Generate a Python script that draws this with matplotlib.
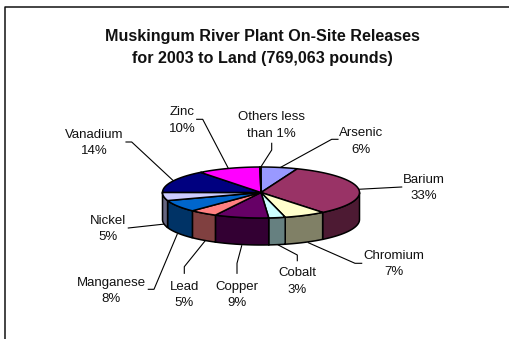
import numpy as np
import matplotlib
matplotlib.use('Agg')
import matplotlib.pyplot as plt
from matplotlib.patches import Polygon

#datos
names = ['Arsenic', 'Barium', 'Chromium', 'Cobalt', 'Copper', 'Lead',
         'Manganese', 'Nickel', 'Vanadium', 'Zinc', 'Others less\nthan 1%']
values = [6, 33.2, 6.8, 2.7, 8.9, 4.6, 7.6, 5.2, 14.4, 10.3, 0.2]
pct_labels = ['6%', '33%', '7%', '3%', '9%', '5%', '8%', '5%', '14%', '10%', '']
top_colors = ['#9999FF', '#993366', '#FFFFCC', '#CCFFFF', '#660066', '#FF8080',
              '#0066CC', '#CCCCFF', '#000080', '#FF00FF', '#808080']

plt.rcParams['font.family'] = ['Liberation Sans', 'DejaVu Sans']

W, H = 510, 339
fig = plt.figure(figsize=(W / 100, H / 100), dpi=100)
ax = fig.add_axes([0, 0, 1, 1])
ax.set_xlim(0, W)
ax.set_ylim(H, 0)
ax.axis('off')

#marco: solo arriba y a la izquierda
ax.plot([5.5, 5.5, W], [H, 7, 7], color='#111111', lw=1.1)

ax.text(262, 36, 'Muskingum River Plant On-Site Releases', ha='center', va='center',
        fontsize=11.6, fontweight='bold', color='#111111')
ax.text(262, 58, 'for 2003 to Land (769,063 pounds)', ha='center', va='center',
        fontsize=11.6, fontweight='bold', color='#111111')

#pastel 3D a mano
cx, cy, a, b, depth = 261, 192.5, 98.5, 25.5, 27


def ell(t):
    return cx + a * np.sin(t), cy - b * np.cos(t)


edges = np.radians(np.cumsum([0] + values) / sum(values) * 360)

#laterales, solo la parte delantera
for i, col in enumerate(top_colors):
    t0, t1 = max(edges[i], np.pi / 2), min(edges[i + 1], 3 * np.pi / 2)
    if t1 <= t0:
        continue
    t = np.linspace(t0, t1, 40)
    x, y = ell(t)
    pts = np.r_[np.c_[x, y], np.c_[x, y + depth][::-1]]
    side = tuple(0.5 * c for c in matplotlib.colors.to_rgb(col))
    ax.add_patch(Polygon(pts, closed=True, fc=side, ec='black', lw=1.1, zorder=2))

#tapa
for i, col in enumerate(top_colors):
    t = np.linspace(edges[i], edges[i + 1], 60)
    x, y = ell(t)
    pts = np.r_[[[cx, cy]], np.c_[x, y]]
    ax.add_patch(Polygon(pts, closed=True, fc=col, ec='black', lw=1.1, zorder=3))

#etiquetas
label_pos = [(361, 141.5), (424, 188), (394, 264), (297, 281.5), (237, 295), (184.3, 295),
             (111, 291), (108, 229), (94.3, 143), (182.3, 120.5), (271.7, 125.5)]
for name, pct, (lx, ly) in zip(names, pct_labels, label_pos):
    txt = name + '\n' + pct if pct else name
    ax.text(lx, ly, txt, ha='center', va='center', fontsize=9.5, color='#111111', linespacing=1.45)

#lineas guia
leaders = [
    [(338, 139.3), (331.7, 139.3), (280, 167.7)],
    [(401.7, 187), (358.3, 189.3)],
    [(361.7, 263.3), (355, 263.3), (308.3, 242.7)],
    [(297.3, 260.7), (297.3, 255), (278.3, 245)],
    [(237, 273.3), (237, 263.3), (241.7, 245.7)],
    [(184.3, 273.3), (184.3, 266.7), (205, 241)],
    [(148.3, 289.3), (154, 289.3), (177.3, 234)],
    [(128.3, 228), (165, 224)],
    [(126, 142), (131.7, 142), (173.3, 180.7)],
    [(196.7, 119.3), (202.7, 119.3), (228.3, 168.3)],
    [(271.7, 143.3), (271.7, 150), (261, 166.7)],
]
for pts in leaders:
    xs, ys = zip(*pts)
    ax.plot(xs, ys, color='black', lw=0.8, zorder=1)

fig.savefig('out.png', dpi=100)
